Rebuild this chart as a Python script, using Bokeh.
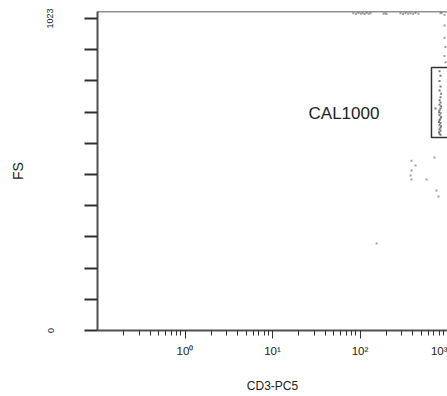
from bokeh.plotting import figure
from bokeh.models import Range1d, FixedTicker, BasicTickFormatter, Span
from bokeh.embed import file_html
from bokeh.resources import INLINE
from bokeh.core.properties import value

# ---- data ----
x_major_ticks = [1, 10, 100, 1000]
x_tick_labels = ["10\u2070", "10\u00b9", "10\u00b2", "10\u00b3"]
x_minor_mantissas = [2, 3, 4, 5, 6, 7, 8, 9]
x_decades = [0.1, 1, 10, 100]

y_ticks = [0, 102.3, 204.6, 306.9, 409.2, 511.5, 613.8, 716.1, 818.4, 920.7, 1023]
y_tick_labels = {0: "0", 1023: "1023"}

# events inside the gate (CD3-PC5, FS)
gate_x = [811, 832, 811, 832, 811, 845, 832, 811, 832, 811, 845, 832, 811, 800, 832,
          811, 845, 832, 811, 800, 832, 811, 845, 832, 811, 832, 800, 811, 832, 730]
gate_y = [850, 835, 818, 800, 787, 776, 765, 755, 748, 740, 735, 728, 722, 716, 712,
          706, 700, 695, 690, 684, 680, 675, 670, 666, 660, 655, 650, 645, 642, 728]
# saturated events along the top edge
top_x = [84, 90, 96, 102, 107, 113, 119, 126, 132, 186, 195, 201, 290, 310, 331, 355,
         378, 405, 431, 466, 832, 854, 924, 924, 924, 949, 924, 949]
top_y = [1040, 1038, 1041, 1039, 1040, 1038, 1041, 1039, 1040, 1039, 1040, 1038, 1040,
         1038, 1041, 1039, 1040, 1038, 1041, 1039, 1040, 1041, 1035, 1000, 960, 930, 900, 880]
# scattered events
scat_x = [388, 431, 388, 378, 388, 576, 710, 789, 748, 155]
scat_y = [557, 541, 525, 508, 495, 495, 567, 439, 459, 285]

gate_left, gate_right = 656, 2000
gate_bottom, gate_top = 633, 862
label_x, label_y, label_text = 25.8, 713, "CAL1000"

x_start, x_end = 0.1, 1000
y_start, y_end = 0, 1046

# ---- figure ----
p = figure(width=447, height=396, x_axis_type="log",
           x_range=Range1d(x_start, x_end), y_range=Range1d(y_start, y_end),
           output_backend="svg", toolbar_location=None,
           min_border_left=97, min_border_right=0, min_border_top=11, min_border_bottom=66)
p.grid.visible = False
p.background_fill_color = "white"
p.border_fill_color = "white"
p.outline_line_color = None

minor = [m * d for d in x_decades for m in x_minor_mantissas]
p.xaxis.ticker = FixedTicker(ticks=x_major_ticks, minor_ticks=minor)
p.xaxis.formatter = BasicTickFormatter()
p.xaxis.major_label_overrides = dict(zip(x_major_ticks, x_tick_labels))
p.xaxis.axis_label = "CD3-PC5"

p.yaxis.ticker = FixedTicker(ticks=y_ticks, minor_ticks=[])
p.yaxis.major_label_overrides = {t: y_tick_labels.get(t, "") for t in y_ticks}
p.yaxis.axis_label = "FS"
p.yaxis.major_label_orientation = "vertical"

font = "Liberation Sans"
for ax in (p.xaxis[0], p.yaxis[0]):
    ax.axis_line_color = "#505050"
    ax.axis_line_width = 2
    ax.major_tick_line_color = "#303030"
    ax.minor_tick_line_color = "#303030"
    ax.major_tick_in = 0
    ax.minor_tick_in = 0
    ax.major_label_text_font = font
    ax.axis_label_text_font = font
    ax.axis_label_text_font_style = "normal"
    ax.major_label_text_color = "#222222"
    ax.axis_label_text_color = "#222222"

p.xaxis.major_tick_out = 8
p.xaxis.minor_tick_out = 5
p.xaxis.major_tick_line_width = 1
p.xaxis.major_label_text_font_size = "11.5px"
p.xaxis.major_label_standoff = 6
p.xaxis.axis_label_text_font_size = "12px"
p.xaxis.axis_label_standoff = 19

p.yaxis.major_tick_out = 13
p.yaxis.major_tick_line_width = 2
p.yaxis.minor_tick_out = 0
p.yaxis.major_label_text_font_size = "9px"
p.yaxis.major_label_standoff = 31
p.yaxis.axis_label_text_font_size = "14px"
p.yaxis.axis_label_standoff = 19

p.add_layout(Span(location=y_end, dimension="width", line_color="#222222", line_width=1.5))

p.quad(left=[gate_left], right=[gate_right], bottom=[gate_bottom], top=[gate_top],
       fill_color=None, line_color="#333333", line_width=1.5)

p.scatter(x=gate_x, y=gate_y, marker="square", size=2, color="#7a7a7a", line_color=None)
p.scatter(x=top_x, y=top_y, marker="square", size=2, color="#a0a0a0", line_color=None)
p.scatter(x=scat_x, y=scat_y, marker="square", size=2, color="#a0a0a0", line_color=None)

p.text(x=[label_x], y=[label_y], text=[label_text], text_font=value(font),
       text_font_size="17px", text_color="#222222", text_baseline="middle", text_align="left")

open("out.html", "w").write(file_html(p, INLINE))
